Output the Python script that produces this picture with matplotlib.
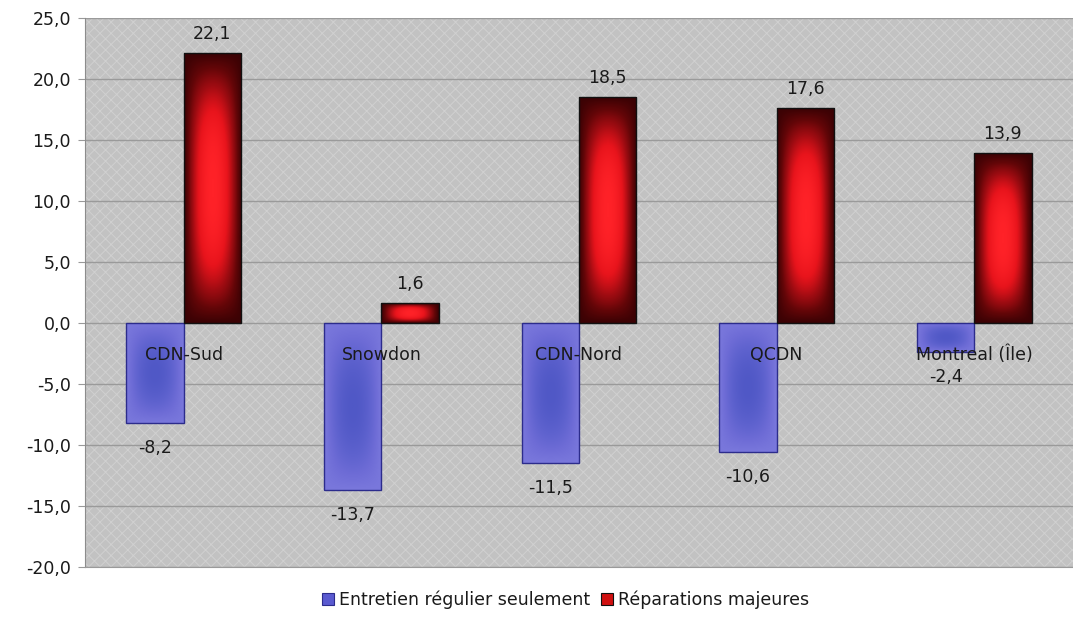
import numpy as np
import matplotlib
matplotlib.use("Agg")
import matplotlib.pyplot as plt
from matplotlib.colors import LinearSegmentedColormap
from matplotlib.patches import Patch, Rectangle
from matplotlib.ticker import FuncFormatter

plt.rcParams["font.family"] = ["DejaVu Sans"]
plt.rcParams["hatch.linewidth"] = 0.7

# ── Données ───────────────────────────────────────────────────────────────
secteurs = ["CDN-Sud", "Snowdon", "CDN-Nord", "QCDN", "Montreal (Île)"]
entretien = [-8.2, -13.7, -11.5, -10.6, -2.4]
reparations = [22.1, 1.6, 18.5, 17.6, 13.9]
noms_series = ["Entretien régulier seulement", "Réparations majeures"]
yticks = [25, 20, 15, 10, 5, 0, -5, -10, -15, -20]

TXT = "#1a1a1a"
FS = 12.5
cmap_rouge = LinearSegmentedColormap.from_list("rouge", ["#3a0204", "#640608", "#a00c12", "#e8141c", "#ff2228"])
cmap_bleu = LinearSegmentedColormap.from_list("bleu", ["#7a78dc", "#6e6cd6", "#5e62ce", "#5058c6"])


def degrade(ax, patch, cmap, pa, pb, gamma=1.0):
    """Remplit une barre avec un dégradé 'depuis le centre'."""
    x0, y0 = patch.get_x(), patch.get_y()
    w, h = patch.get_width(), patch.get_height()
    u = np.linspace(-1, 1, 60)
    v = np.linspace(-1, 1, 200)
    U, V = np.meshgrid(u, v)
    f = ((1 - np.abs(U) ** pa) * (1 - np.abs(V) ** pb)) ** gamma
    im = ax.imshow(f, cmap=cmap, vmin=0, vmax=1, aspect="auto",
                   extent=(x0, x0 + w, min(y0, y0 + h), max(y0, y0 + h)),
                   origin="lower", zorder=patch.get_zorder() - 0.1,
                   interpolation="bilinear")
    im.set_clip_path(patch)
    patch.set_facecolor("none")


fig = plt.figure(figsize=(10.73, 6.29), dpi=100)
ax = fig.add_axes([0.0792, 0.0986, 0.9208, 0.8728])

# fond gris tramé
ax.set_facecolor("#c2c2c2")
ax.add_patch(Rectangle((0, 0), 1, 1, transform=ax.transAxes, facecolor="#c2c2c2",
                       edgecolor="#d0d0d0", hatch="xxx", lw=0, zorder=0))

x = np.arange(len(secteurs))
w = 0.29
bars_b = ax.bar(x - w / 2, entretien, w, edgecolor="#2c2c8c", lw=1.0, zorder=3)
bars_r = ax.bar(x + w / 2, reparations, w, edgecolor="#111111", lw=1.0, zorder=3)

for p in bars_b:
    degrade(ax, p, cmap_bleu, 2.0, 2.0)
for p in bars_r:
    degrade(ax, p, cmap_rouge, 2.0, 2.5)

for xi, val in zip(x - w / 2, entretien):
    ax.annotate(f"{val:.1f}".replace(".", ","), (xi, val), xytext=(0, -18),
                textcoords="offset points", ha="center", va="center",
                fontsize=FS, color=TXT, zorder=6)
for xi, val in zip(x + w / 2, reparations):
    ax.annotate(f"{val:.1f}".replace(".", ","), (xi, val), xytext=(0, 14),
                textcoords="offset points", ha="center", va="center",
                fontsize=FS, color=TXT, zorder=6)

# étiquettes de catégorie le long de l'axe zéro
for xi, nom in zip(x, secteurs):
    ax.annotate(nom, (xi, 0), xytext=(0, -23), textcoords="offset points",
                ha="center", va="center", fontsize=FS, color=TXT, zorder=6)

ax.set_xlim(-0.5, len(secteurs) - 0.5)
ax.set_ylim(-20, 25)
ax.set_yticks(yticks)
ax.yaxis.set_major_formatter(FuncFormatter(lambda v, _: f"{v:.1f}".replace(".", ",")))
ax.tick_params(axis="y", labelsize=FS, labelcolor=TXT, length=5, color="#999999", pad=5)
ax.set_xticks([])
ax.grid(axis="y", color="#9a9a9a", lw=1.0, zorder=1)
ax.set_axisbelow(True)

for s in ["top", "right"]:
    ax.spines[s].set_visible(False)
ax.spines["left"].set_color("#8c8c8c")
ax.spines["bottom"].set_color("#9a9a9a")

handles = [Patch(facecolor="#5a5ad0", edgecolor="#2c2c8c", lw=0.8),
           Patch(facecolor="#d01010", edgecolor="#111111", lw=0.8)]
fig.legend(handles, noms_series, loc="center", bbox_to_anchor=(0.527, 0.046),
           ncol=2, frameon=False, fontsize=FS, handlelength=0.7, handleheight=0.7,
           handletextpad=0.3, columnspacing=0.6, labelcolor=TXT)

fig.savefig("out.png", dpi=100)
